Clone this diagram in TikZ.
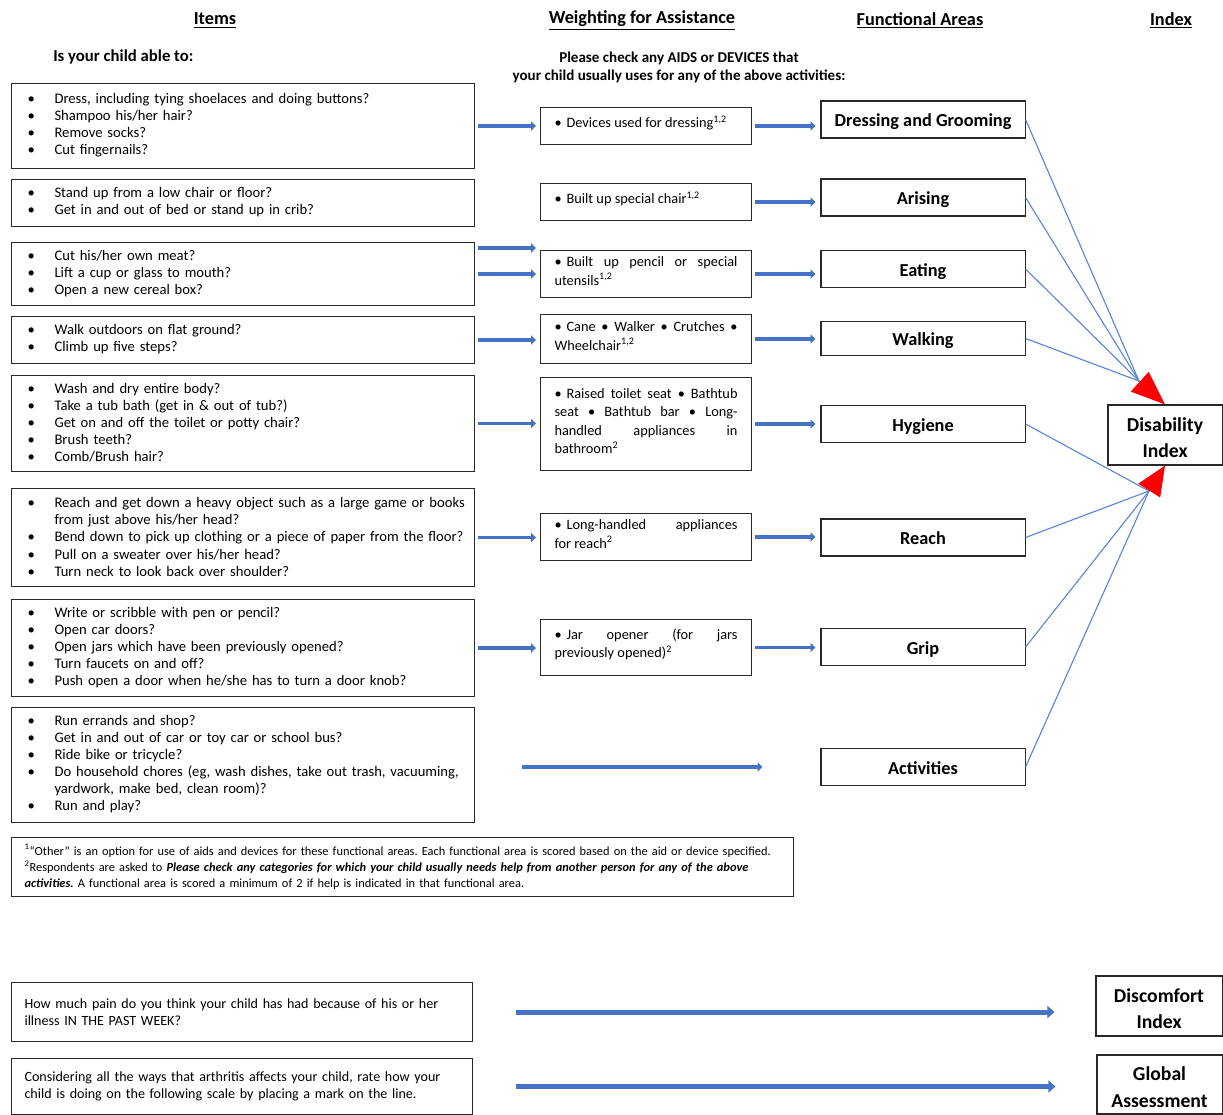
\documentclass[tikz,border=0pt]{standalone}
\usepackage{fontspec}
\setmainfont{Carlito}
\usepackage{tikz}
\usetikzlibrary{arrows.meta, calc}

\definecolor{arrowblue}{RGB}{68,114,196}
\definecolor{lineblue}{RGB}{91,134,210}
\definecolor{boxline}{RGB}{40,40,40}

% bullet line with hanging indent, question boxes
\newcommand{\qitem}[1]{\par\hangindent=1.075cm\hangafter=1\noindent\hspace*{0.4cm}\makebox[0.675cm][l]{\textbullet}#1}
% bullet line, aids and devices boxes
\newcommand{\aitem}[1]{\hangindent=0.3cm\hangafter=1\noindent\makebox[0.3cm][l]{\textbullet}#1}
% extra space below the text of a box
\newcommand{\padbelow}[1]{\par\vspace{#1}}

\begin{document}
\frenchspacing
\begin{tikzpicture}[x=0.025cm, y=-0.025cm,
    head/.style={font=\fontsize{13}{15}\selectfont\bfseries},
    qbox/.style={draw=boxline, line width=0.75pt, anchor=north west, text width=11.575cm,
      inner xsep=0pt, inner ysep=0pt, align=left, font=\fontsize{10.4}{12.1}\selectfont,
      execute at end node={\padbelow{0.2cm}}},
    aidbox/.style={draw=boxline, line width=0.75pt, anchor=north west, text width=4.575cm,
      inner xsep=0.35cm, inner ysep=0pt, align=justify, font=\fontsize{10.2}{13}\selectfont,
      execute at end node={\padbelow{0.15cm}}},
    area/.style={draw=boxline, line width=0.75pt, minimum width=5.1cm, minimum height=0.925cm,
      inner sep=0pt, text height=10pt, text depth=0pt, font=\fontsize{13}{15}\selectfont\bfseries},
    index/.style={draw=boxline, line width=0.75pt, inner sep=0pt, align=center, text height=32pt,
      text depth=0pt, font=\fontsize{14}{18.5}\selectfont\bfseries},
    textbox/.style={draw=boxline, line width=0.75pt, anchor=north west, inner xsep=0.325cm,
      inner ysep=0pt, align=left},
    flow/.style={arrowblue, line width=2.2pt, -{Triangle[length=3.5pt, width=6.5pt]},
      shorten <=0.075cm, shorten >=0.1cm},
    bigflow/.style={arrowblue, line width=3.5pt, -{Triangle[length=5pt, width=8.5pt]}},
    link/.style={lineblue, line width=0.8pt}]
  \useasboundingbox (0,0) rectangle (1223,1115);

  % Column headings
  \node[head] (hitems) at (215,20.5) {\underline{Items}};
  \node[head] (hweight) at (642,20.5) {\underline{Weighting for Assistance}};
  \node[head] (harea) at (920,20.5) {\underline{Functional Areas}};
  \node[head] (hindex) at (1171,20.5) {\underline{Index}};
  \node[anchor=west, inner sep=0pt, font=\fontsize{11.9}{14}\selectfont\bfseries] (ask) at (53,57) {Is your child able to:};
  \node[align=center, inner sep=0pt, font=\fontsize{10.7}{12.8}\selectfont\bfseries] (askaid) at (679,67)
    {Please check any AIDS or DEVICES that\\your child usually uses for any of the above activities:};

  % Items
  \node[qbox, minimum height=2.125cm] (qdress) at (11,83) {\qitem{Dress, including tying shoelaces and doing buttons?}
    \qitem{Shampoo his/her hair?}\qitem{Remove socks?}\qitem{Cut fingernails?}};
  \node[qbox, minimum height=1.175cm] (qarise) at (11,179) {\qitem{Stand up from a low chair or floor?}
    \qitem{Get in and out of bed or stand up in crib?}};
  \node[qbox, minimum height=1.575cm] (qeat) at (11,242) {\qitem{Cut his/her own meat?}
    \qitem{Lift a cup or glass to mouth?}\qitem{Open a new cereal box?}};
  \node[qbox, minimum height=1.175cm] (qwalk) at (11,316) {\qitem{Walk outdoors on flat ground?}
    \qitem{Climb up five steps?}};
  \node[qbox, minimum height=2.4cm] (qhyg) at (11,375) {\qitem{Wash and dry entire body?}
    \qitem{Take a tub bath (get in \& out of tub?)}\qitem{Get on and off the toilet or potty chair?}
    \qitem{Brush teeth?}\qitem{Comb/Brush hair?}};
  \node[qbox, minimum height=2.45cm] (qreach) at (11,488) {\qitem{Reach and get down a heavy object such as a large game or books\newline from just above his/her head?}
    \qitem{Bend down to pick up clothing or a piece of paper from the floor?}
    \qitem{Pull on a sweater over his/her head?}\qitem{Turn neck to look back over shoulder?}};
  \node[qbox, minimum height=2.425cm] (qgrip) at (11,599) {\qitem{Write or scribble with pen or pencil?}
    \qitem{Open car doors?}\qitem{Open jars which have been previously opened?}
    \qitem{Turn faucets on and off?}\qitem{Push open a door when he/she has to turn a door knob?}};
  \node[qbox, minimum height=2.875cm] (qact) at (11,707) {\qitem{Run errands and shop?}
    \qitem{Get in and out of car or toy car or school bus?}\qitem{Ride bike or tricycle?}
    \qitem{Do household chores (eg, wash dishes, take out trash, vacuuming,\newline yardwork, make bed, clean room)?}
    \qitem{Run and play?}};

  % Aids and devices
  \node[aidbox, minimum height=0.925cm] (adress) at (540,107) {\aitem{Devices used for dressing\textsuperscript{1,2}}};
  \node[aidbox, minimum height=0.925cm] (aarise) at (540,183) {\aitem{Built up special chair\textsuperscript{1,2}}};
  \node[aidbox, minimum height=1.175cm] (aeat) at (540,250) {\aitem{Built up pencil or special\linebreak utensils\textsuperscript{1,2}}};
  \node[aidbox, minimum height=1.225cm] (awalk) at (540,314) {\aitem{Cane \textbullet{} Walker \textbullet{} Crutches \textbullet\linebreak Wheelchair\textsuperscript{1,2}}};
  \node[aidbox, minimum height=2.325cm] (ahyg) at (540,377) {\aitem{Raised toilet seat \textbullet{} Bathtub\linebreak seat \textbullet{} Bathtub bar \textbullet{} Long-\linebreak handled appliances in\linebreak bathroom\textsuperscript{2}}};
  \node[aidbox, minimum height=1.175cm] (areach) at (540,513) {\aitem{Long-handled appliances\linebreak for reach\textsuperscript{2}}};
  \node[aidbox, minimum height=1.4cm] (agrip) at (540,619) {\aitem{Jar opener (for jars\linebreak previously opened)\textsuperscript{2}}};

  % Functional areas
  \node[area] (dress) at (923,119.5) {Dressing and Grooming};
  \node[area] (arise) at (923,197.5) {Arising};
  \node[area] (eat) at (923,269) {Eating};
  \node[area, minimum height=0.85cm] (walk) at (923,338.5) {Walking};
  \node[area] (hyg) at (923,424) {Hygiene};
  \node[area] (reach) at (923,537.5) {Reach};
  \node[area] (grip) at (923,647) {Grip};
  \node[area] (act) at (923,767) {Activities};

  \node[index, minimum width=2.85cm, minimum height=1.5cm] (di) at (1165,435) {Disability\\Index};

  % Footnote
  \node[textbox, text width=18.9cm, minimum height=1.475cm, font=\fontsize{8.8}{11.7}\selectfont] (note) at (11,837)
    {\textsuperscript{1}``Other'' is an option for use of aids and devices for these functional areas. Each functional area is scored based on the aid or device specified.\newline
    \textsuperscript{2}Respondents are asked to \textbf{\textit{Please check any categories for which your child usually needs help from another person for any of the above}}\newline
    \textbf{\textit{activities.}} A functional area is scored a minimum of 2 if help is indicated in that functional area.};

  % Items to aids
  \draw[flow] (qdress.east) -- (qdress.east -| adress.west);
  \draw[flow] ($(qeat.east |- aeat.north)+(0,-2)$) -- ($(aeat.north west)+(0,-2)$);
  \draw[flow] (qeat.east) -- (qeat.east -| aeat.west);
  \draw[flow] (qwalk.east) -- (qwalk.east -| awalk.west);
  \draw[flow] (qhyg.east) -- (qhyg.east -| ahyg.west);
  \draw[flow] (qreach.east) -- (qreach.east -| areach.west);
  \draw[flow] (qgrip.east) -- (qgrip.east -| agrip.west);
  \draw[flow, shorten <=1.175cm, shorten >=1.45cm] (qact.east |- act.west) -- (act.west);

  % Aids to functional areas
  \foreach \a/\b in {adress/dress, aarise/arise, aeat/eat, awalk/walk, ahyg/hyg, areach/reach, agrip/grip}
    \draw[flow, shorten >=0.125cm] (\a.east) -- (\a.east -| \b.west);

  % Functional areas to the index
  \coordinate (topm) at (1139,381);
  \coordinate (botm) at (1149,491);
  \foreach \n in {dress, arise, eat, walk}
    \draw[link] (\n.east) -- (topm);
  \foreach \n in {hyg, reach, grip, act}
    \draw[link] (\n.east) -- (botm);
  \draw[link, -{Triangle[length=0.85cm, width=0.66cm, red]}] (topm) -- (di.north);
  \draw[link, -{Triangle[length=0.74cm, width=0.64cm, red]}] (botm) -- (di.south);

  % Pain and global assessment
  \node[textbox, text width=10.875cm, minimum height=1.475cm, font=\fontsize{10}{12.1}\selectfont] (pain) at (11,982)
    {How much pain do you think your child has had because of his or her\newline illness IN THE PAST WEEK?\padbelow{0.7cm}};
  \node[textbox, text width=10.875cm, minimum height=1.4cm, font=\fontsize{10}{12.1}\selectfont] (cons) at (11,1058)
    {Considering all the ways that arthritis affects your child, rate how your\newline child is doing on the following scale by placing a mark on the line.\padbelow{0.45cm}};
  \node[index, minimum width=3.15cm, minimum height=1.5cm] (disc) at (1159,1006) {Discomfort\\Index};
  \node[index, minimum width=3.125cm, minimum height=1.475cm] (glob) at (1159.5,1084.5) {Global\\Assessment};
  \draw[bigflow, shorten <=1.075cm, shorten >=1.025cm] (pain.east) -- (pain.east -| disc.west);
  \draw[bigflow, shorten <=1.075cm, shorten >=1.025cm] (cons.east) -- (cons.east -| glob.west);
\end{tikzpicture}
\end{document}
